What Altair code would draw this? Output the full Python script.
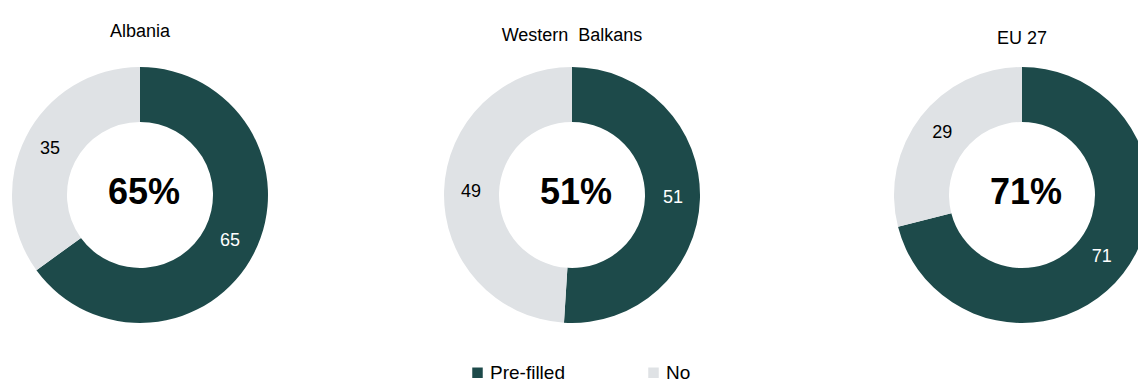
import altair as alt
import pandas as pd

countries = ["Albania", "Western\u00a0 Balkans", "EU 27"]
prefilled = [65, 51, 71]
no = [35, 49, 29]
categories = ["Pre-filled", "No"]
colors = ["#1d4a4a", "#dfe2e5"]

rows = []
for c, p, n in zip(countries, prefilled, no):
    rows.append({"country": c, "cat": categories[0], "value": p, "order": 0})
    rows.append({"country": c, "cat": categories[1], "value": n, "order": 1})
df = pd.DataFrame(rows)

FONT = "Liberation Sans"

legend = alt.Legend(
    orient="none", legendX=468, legendY=302, direction="horizontal", title=None,
    symbolType="square", symbolSize=110, symbolStrokeWidth=0,
    labelFontSize=19, labelFont=FONT, labelColor="#000000", columnPadding=79,
    labelOffset=3,
)


def panel(country, width, offset, shift=0, clip=False):
    base = alt.Chart(df).transform_filter(alt.datum.country == country)
    theta = alt.Theta("value:Q", stack=True)
    order = alt.Order("order:Q")
    arc = base.mark_arc(outerRadius=128, innerRadius=73, xOffset=shift, clip=clip).encode(
        theta=theta,
        order=order,
        color=alt.Color("cat:N", scale=alt.Scale(domain=categories, range=colors), legend=legend),
    )
    labels = base.mark_text(radius=101, fontSize=18, font=FONT, xOffset=shift, clip=clip).encode(
        theta=theta,
        order=order,
        text=alt.Text("value:Q"),
        color=alt.condition(alt.datum.cat == categories[0], alt.value("#ffffff"), alt.value("#000000")),
    )
    center = base.transform_filter(alt.datum.cat == categories[0]).transform_calculate(
        pct="datum.value + '%'"
    ).mark_text(fontSize=36, fontWeight="bold", font=FONT, color="#000000",
                xOffset=shift + 4, yOffset=-2).encode(
        text="pct:N"
    )
    return alt.layer(arc, labels, center).properties(
        width=width, height=268,
        title=alt.TitleParams(country, fontSize=18, font=FONT, fontWeight="normal",
                              color="#000000", anchor="middle", offset=offset, dx=shift),
    )


chart = alt.hconcat(
    panel(countries[0], 280, 20),
    panel(countries[1], 584, 16),
    panel(countries[2], 274, 13, shift=21, clip=True),
    spacing=0,
).properties(
    padding={"top": 23, "left": 0, "right": 0, "bottom": 0}
).configure_view(stroke=None).configure(background="#ffffff")

chart.save("out.html", embed_options={"renderer": "svg", "actions": False})
